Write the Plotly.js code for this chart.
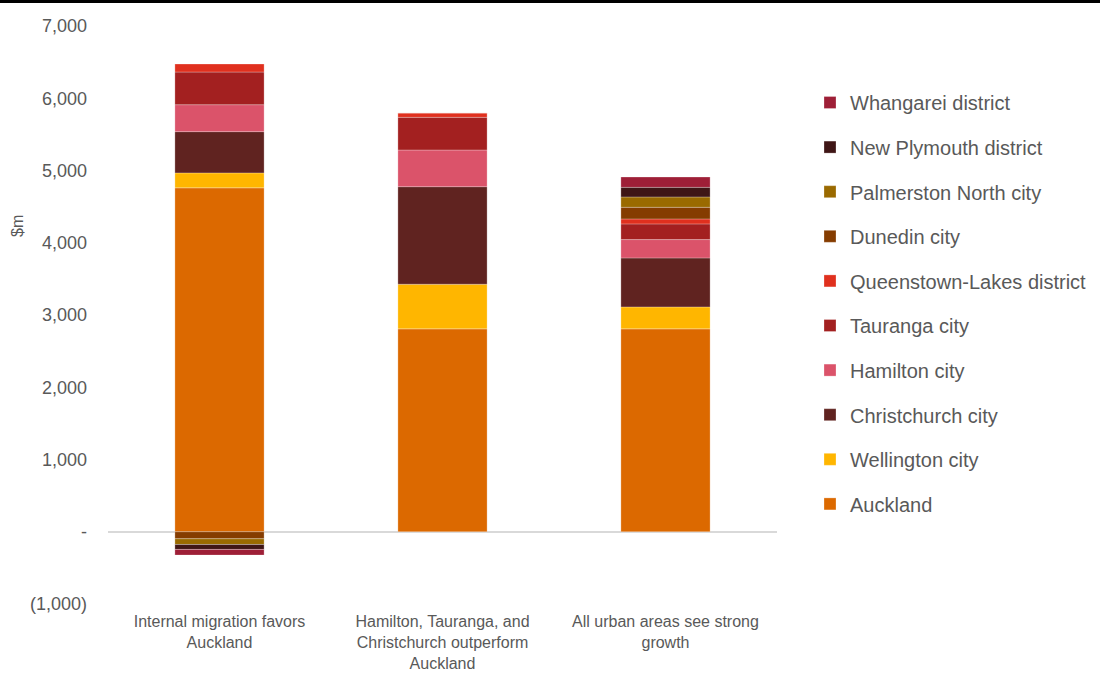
<!DOCTYPE html>
<html>
<head>
<meta charset="utf-8">
<script src="https://cdn.plot.ly/plotly-3.0.1.min.js"></script>
<style>html,body{margin:0;padding:0;background:#fff;}#chart{width:1100px;height:674px;}</style>
</head>
<body>
<div id="chart"></div>
<script>
const categories = [
  "Internal migration favors<br>Auckland",
  "Hamilton, Tauranga, and<br>Christchurch outperform<br>Auckland",
  "All urban areas see strong<br>growth"
];
const seriesNames = ["Auckland","Wellington city","Christchurch city","Hamilton city","Tauranga city",
  "Queenstown-Lakes district","Dunedin city","Palmerston North city","New Plymouth district","Whangarei district"];
const auckland     = [4760, 2808, 2808];
const wellington   = [207, 618, 304];
const christchurch = [571, 1350, 678];
const hamilton     = [373, 508, 254];
const tauranga     = [452, 452, 217];
const queenstown   = [111, 64, 69];
const dunedin      = [-97, 0, 161];
const palmerston   = [-79, 0, 143];
const newPlymouth  = [-69, 0, 133];
const whangarei    = [-78, 0, 143];
const seriesValues = [auckland, wellington, christchurch, hamilton, tauranga, queenstown, dunedin, palmerston, newPlymouth, whangarei];
const colors = ["#DC6900","#FFB600","#602320","#DB536A","#A32020","#E0301E","#853C00","#9A6A00","#3F1616","#9E1F37"];
const tickVals = [-1000,0,1000,2000,3000,4000,5000,6000,7000];
const tickText = ["(1,000)","-","1,000","2,000","3,000","4,000","5,000","6,000","7,000"];

const FONT = "Liberation Sans, Arial, sans-serif";
const traces = seriesNames.map((n,i)=>({
  type:"bar", name:n, x:categories, y:seriesValues[i],
  legendgroup:"g"+i, legendrank:seriesNames.length - i,
  marker:{color:colors[i], line:{color:"rgba(255,255,255,0.45)", width:0.6}},
  hoverinfo:"name+y"
}));

const L=108, R=777, T=26, B=604;
const pw=R-L, ph=B-T;
const layout = {
  width:1100, height:674,
  margin:{l:L, r:1100-R, t:T, b:674-B, pad:0, autoexpand:false},
  paper_bgcolor:"#fff", plot_bgcolor:"#fff",
  barmode:"relative", bargap:0.6,
  font:{family:FONT, color:"#595959", size:16},
  showlegend:true,
  legend:{x:(810-L)/pw, xanchor:"left", y:(B-83)/ph, yanchor:"top",
    traceorder:"grouped", tracegroupgap:15.6,
    font:{size:20, color:"#595959", family:FONT}, bgcolor:"rgba(0,0,0,0)"},
  xaxis:{type:"category", showgrid:false, zeroline:false, showline:false, ticks:"",
    ticklabelstandoff:6, tickfont:{size:16, color:"#595959"}, tickangle:0, automargin:false},
  yaxis:{range:[-1000,7000], tickmode:"array", tickvals:tickVals, ticktext:tickText,
    showgrid:false, zeroline:true, zerolinecolor:"#D9D9D9", zerolinewidth:2, showline:false,
    ticks:"", ticklabelstandoff:20, tickfont:{size:18, color:"#595959"}, automargin:false},
  annotations:[{text:"$m", xref:"paper", yref:"paper", x:(18-L)/pw, y:(B-226)/ph,
    textangle:-90, showarrow:false, font:{size:16, color:"#595959"}, xanchor:"center", yanchor:"middle"}],
  shapes:[{type:"line", xref:"paper", yref:"paper", x0:-L/pw, x1:(1100-L)/pw, y0:(B-1.5)/ph, y1:(B-1.5)/ph,
    line:{color:"#000", width:3}}]
};
Plotly.newPlot("chart", traces, layout, {displayModeBar:false, staticPlot:true});
</script>
</body>
</html>
